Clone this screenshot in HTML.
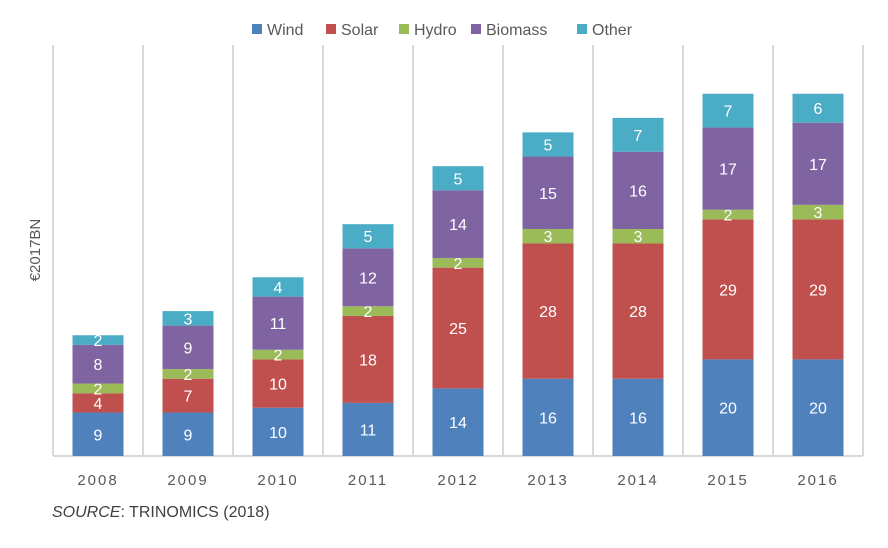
<!DOCTYPE html>
<html><head><meta charset="utf-8"><style>
body{margin:0;background:#fff;width:888px;height:543px;overflow:hidden;font-family:"Liberation Sans",sans-serif}
</style></head><body>
<svg id="c" width="888" height="543" xmlns="http://www.w3.org/2000/svg"></svg>
<script>
const years=["2008","2009","2010","2011","2012","2013","2014","2015","2016"];
const wind=[9,9,10,11,14,16,16,20,20];
const solar=[4,7,10,18,25,28,28,29,29];
const hydro=[2,2,2,2,2,3,3,2,3];
const biomass=[8,9,11,12,14,15,16,17,17];
const other=[2,3,4,5,5,5,7,7,6];
const seriesNames=["Wind","Solar","Hydro","Biomass","Other"];
const colors=["#4f81bd","#c0504d","#9bbb59","#8064a2","#4bacc6"];
const svg=document.getElementById('c');
const NS="http://www.w3.org/2000/svg";
const x0=53,x1=863,y0=456,pxPerUnit=4.83,topY=45;
const step=(x1-x0)/years.length,bw=51;
function xC(i){return x0+step*(i+0.5);}
function yS(v){return y0-v*pxPerUnit;}
function mk(t,a,txt){const e=document.createElementNS(NS,t);for(const k in a)e.setAttribute(k,a[k]);if(txt!==undefined)e.textContent=txt;svg.appendChild(e);return e;}
for(let i=0;i<=years.length;i++){
  const g=mk('line',{x1:x0+step*i,x2:x0+step*i,y1:topY,y2:y0,stroke:'#d9d9d9','stroke-width':2});
  
  
}
const ax=mk('line',{x1:x0,x2:x1,y1:y0,y2:y0,stroke:'#d9d9d9','stroke-width':2});


const data=[wind,solar,hydro,biomass,other];
years.forEach((yr,i)=>{
  let cum=0;
  data.forEach((s,k)=>{
    const v=s[i];
    const r=mk('rect',{x:xC(i)-bw/2,y:yS(cum+v),width:bw,height:v*pxPerUnit,fill:colors[k]});
    
    
    const t=mk('text',{x:xC(i),y:yS(cum+v/2)+6,'text-anchor':'middle',fill:'#fff','font-size':16},v);
    
    
    cum+=v;
  });
  const l=mk('text',{x:xC(i),y:485,'text-anchor':'middle',fill:'#595959','font-size':15,'letter-spacing':2},yr);
  
  
});
const yt=mk('text',{x:0,y:0,transform:'translate(40,250) rotate(-90)','text-anchor':'middle',fill:'#595959','font-size':15},'€2017BN');


const lx=[252,326,399,471,577];
seriesNames.forEach((n,k)=>{
  const r=mk('rect',{x:lx[k],y:24,width:10,height:10,fill:colors[k]});
  
  
  const t=mk('text',{x:lx[k]+15,y:35,fill:'#595959','font-size':16},n);
  
  
});
const src=mk('text',{x:52,y:517,fill:'#404040','font-size':16});
src.innerHTML='<tspan font-style="italic">SOURCE</tspan>: TRINOMICS (2018)';


</script>
</body></html>
